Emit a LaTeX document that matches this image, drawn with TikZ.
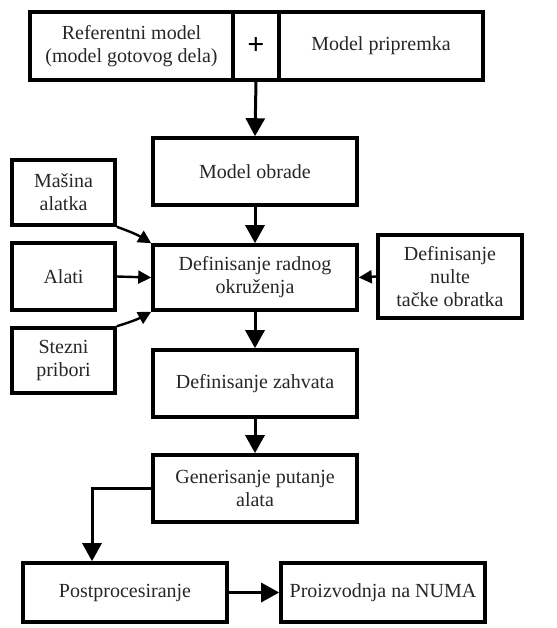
\documentclass[tikz,border=0pt]{standalone}
\usepackage{fontspec}
\setmainfont{Liberation Serif}
\usetikzlibrary{arrows.meta}
\begin{document}
\begin{tikzpicture}[x=0.5pt, y=-0.5pt,
        box/.style={draw, line width=1.8pt, align=center, inner sep=2pt, text=black!85,
                    minimum width=102pt, minimum height=33.5pt, font=\fontsize{10}{11.5}\selectfont},
        smallbox/.style={box, minimum width=51.5pt, minimum height=32.5pt},
        arr/.style={line width=1.5pt, -{Triangle[width=9.5pt, length=9pt]}},
        sidearr/.style={line width=1.2pt, -{Triangle[width=6.5pt, length=6.5pt]}}]
        \useasboundingbox (0,0) rectangle (557,628);

        % Top row
        \node[box, minimum width=101.5pt, minimum height=34pt] (ref) at (131.5,46) {Referentni model\\(model gotovog dela)};
        \node[box, minimum width=23pt, minimum height=34pt, font=\fontsize{15}{15}\bfseries, text=black] (plus) at (256,46) {+};
        \node[box, minimum height=34pt] (prip) at (381,46) {Model pripremka};

        % Main column
        \node[box] (obrade) at (255,171.5) {Model obrade};
        \node[box, minimum height=32.5pt] (radnog) at (255,277.5) {Definisanje radnog\\okruženja};
        \node[box] (zahvat) at (255,383.5) {Definisanje zahvata};
        \node[box] (gen) at (255,488.5) {Generisanje putanje\\alata};

        % Side boxes
        \node[smallbox] (masina) at (63.5,192.5) {Mašina\\alatka};
        \node[smallbox, minimum height=33.5pt] (alati) at (63.5,276.5) {Alati};
        \node[smallbox] (stezni) at (63.5,360.5) {Stezni\\pribori};
        \node[box, minimum width=72pt, minimum height=41.5pt] (nulte) at (450,276.5) {Definisanje\\nulte\\tačke obratka};

        % Bottom row
        \node[box, minimum height=29.5pt] (post) at (125,592.5) {Postprocesiranje};
        \node[box, minimum height=29.5pt] (numa) at (383,592.5) {Proizvodnja na NUMA};

        % Arrows
        \draw[arr] (plus.south) -- (obrade.north);
        \draw[arr] (obrade.south) -- (radnog.north);
        \draw[arr] (radnog.south) -- (zahvat.north);
        \draw[arr] (zahvat.south) -- (gen.north);
        \draw[sidearr] (masina.south east) to[bend left=6] (radnog.north west);
        \draw[sidearr] (alati.east) -- (radnog.west);
        \draw[sidearr] (stezni.north east) to[bend right=6] (radnog.south west);
        \draw[sidearr] (nulte.west) -- (radnog.east);
        \coordinate (bend) at (92,488.5);
        \draw[arr] (gen.west) -- (bend) -- (bend |- post.north);
        \draw[arr] (post.east) -- (numa.west);
    \end{tikzpicture}
\end{document}
